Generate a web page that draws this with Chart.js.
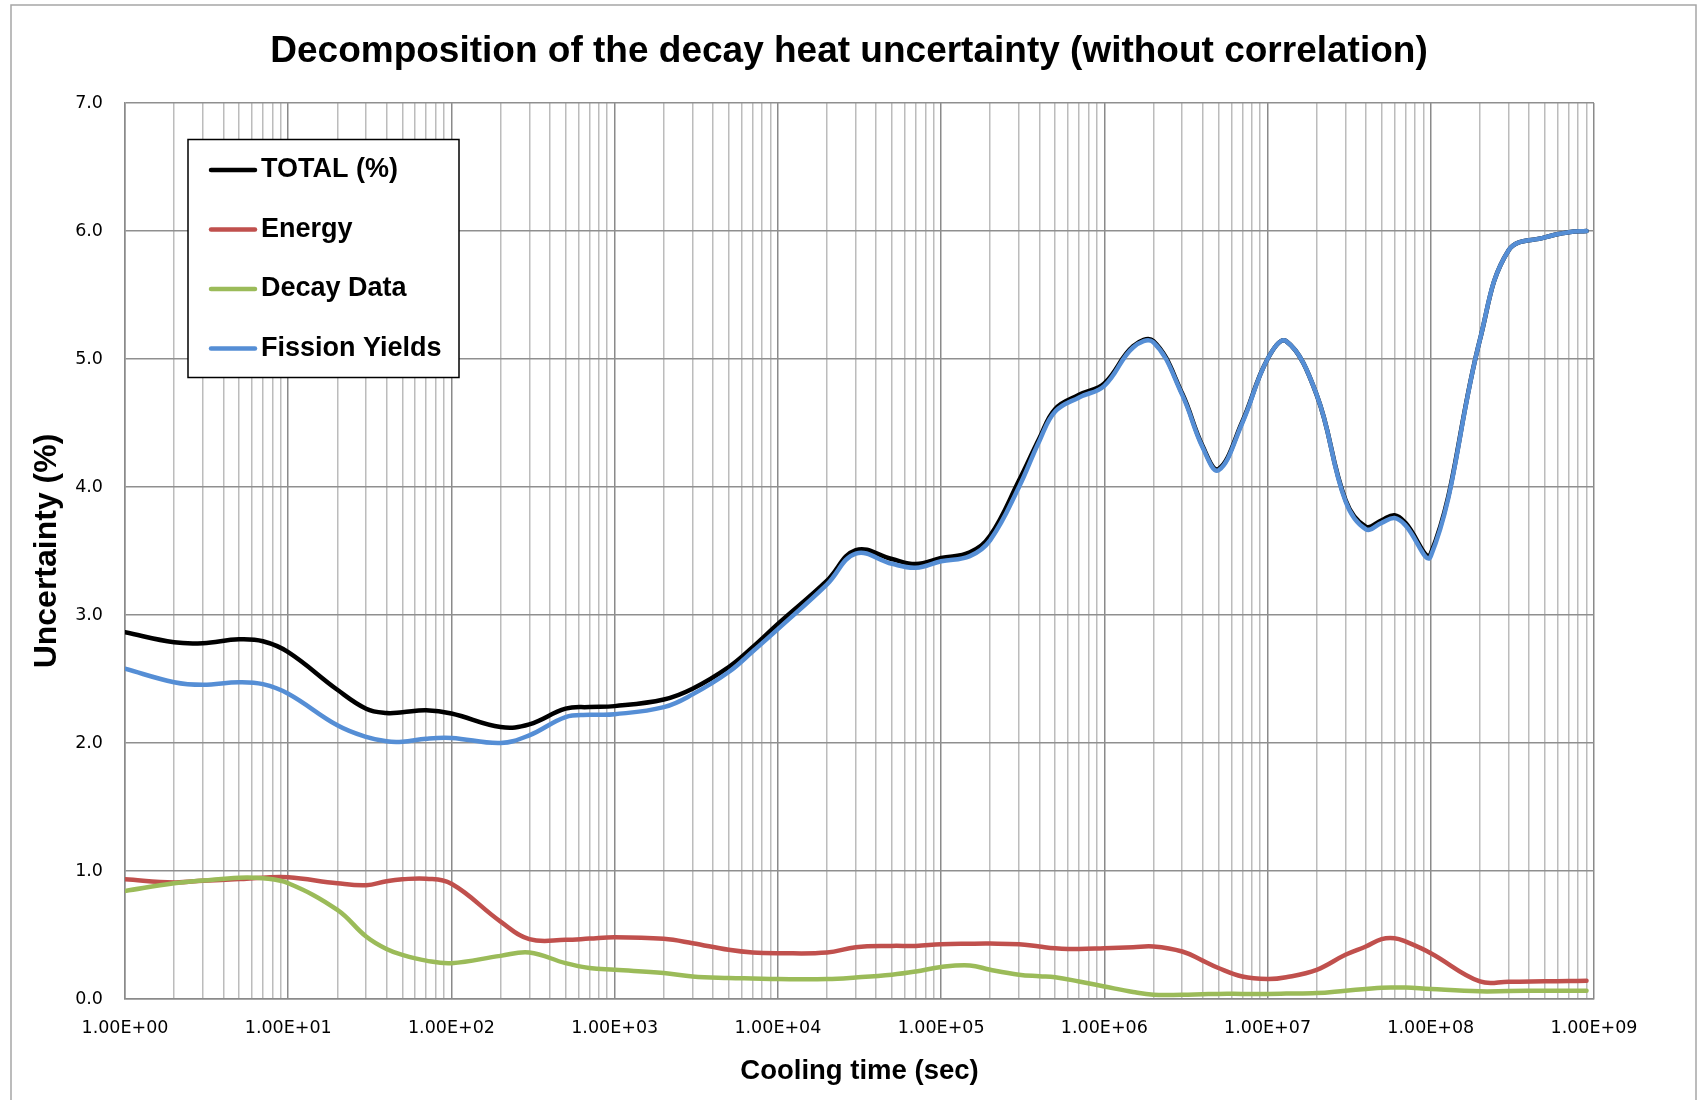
<!DOCTYPE html>
<html>
<head>
<meta charset="utf-8">
<title>Decay heat uncertainty</title>
<script src="https://cdn.jsdelivr.net/npm/chart.js@4.4.1/dist/chart.umd.min.js"></script>
<style>
  html, body { margin: 0; padding: 0; background: #fff; }
  #caja { width: 1698px; height: 1100px; }
</style>
</head>
<body>
<div id="caja"><canvas id="grafica" width="1698" height="1100"></canvas></div>
<script>
// cooling time (sec)
const tiempos = [1, 2, 3, 5, 7, 10, 20, 30, 40, 50, 70, 100, 200, 300, 500, 700,
  1e3, 2e3, 3e3, 5e3, 7e3, 1e4, 2e4, 3e4, 5e4, 7e4, 1e5, 1.5e5, 2e5, 3e5, 4e5, 5e5, 7e5,
  1e6, 1.5e6, 2e6, 3e6, 4e6, 5e6, 7e6, 1e7, 1.3e7, 2e7, 3e7, 4e7, 5e7, 6e7, 7e7,
  1e8, 2e8, 3e8, 5e8, 7e8, 9e8];

// uncertainty (%)
const total = [2.865, 2.787, 2.78, 2.81, 2.795, 2.71, 2.416, 2.268, 2.234, 2.24, 2.255, 2.23, 2.125, 2.146, 2.268, 2.281,
  2.288, 2.34, 2.424, 2.593, 2.748, 2.93, 3.268, 3.507, 3.437, 3.398, 3.445, 3.49, 3.62, 4.05, 4.38, 4.61, 4.72,
  4.81, 5.1, 5.14, 4.73, 4.32, 4.14, 4.51, 5.0, 5.14, 4.72, 3.9, 3.69, 3.74, 3.78, 3.72,
  3.48, 5.15, 5.85, 5.95, 5.99, 6.0];
const energia = [0.935, 0.911, 0.924, 0.937, 0.948, 0.951, 0.904, 0.889, 0.92, 0.935, 0.94, 0.90, 0.605, 0.468, 0.462, 0.472,
  0.483, 0.47, 0.436, 0.384, 0.363, 0.358, 0.363, 0.405, 0.415, 0.415, 0.428, 0.432, 0.433, 0.428, 0.41, 0.397, 0.39,
  0.397, 0.405, 0.41, 0.371, 0.30, 0.242, 0.176, 0.156, 0.17, 0.228, 0.345, 0.41, 0.468, 0.475, 0.449,
  0.358, 0.137, 0.135, 0.138, 0.14, 0.143];
const decaimiento = [0.844, 0.904, 0.925, 0.948, 0.943, 0.904, 0.696, 0.488, 0.39, 0.345, 0.30, 0.28, 0.337, 0.363, 0.28, 0.242,
  0.228, 0.203, 0.176, 0.164, 0.16, 0.156, 0.156, 0.168, 0.19, 0.215, 0.25, 0.262, 0.228, 0.19, 0.178, 0.17, 0.137,
  0.098, 0.055, 0.033, 0.033, 0.037, 0.04, 0.04, 0.04, 0.042, 0.046, 0.065, 0.078, 0.088, 0.09, 0.09,
  0.078, 0.06, 0.062, 0.065, 0.065, 0.065];
const fision = [2.58, 2.475, 2.455, 2.475, 2.46, 2.385, 2.138, 2.047, 2.013, 2.01, 2.034, 2.04, 2.0, 2.06, 2.203, 2.22,
  2.225, 2.28, 2.38, 2.555, 2.715, 2.89, 3.24, 3.48, 3.40, 3.37, 3.42, 3.46, 3.585, 4.0, 4.36, 4.59, 4.70,
  4.79, 5.09, 5.13, 4.72, 4.31, 4.13, 4.5, 5.0, 5.14, 4.72, 3.89, 3.67, 3.72, 3.757, 3.70,
  3.46, 5.15, 5.85, 5.95, 5.99, 6.0];

const nombres = ["TOTAL (%)", "Energy", "Decay Data", "Fission Yields"];
const colores = ["#000000", "#c0504d", "#9bbb59", "#558ed5"];

// ejes
const decadas = [1, 10, 100, 1e3, 1e4, 1e5, 1e6, 1e7, 1e8, 1e9];
const etiquetasX = ["1.00E+00", "1.00E+01", "1.00E+02", "1.00E+03", "1.00E+04",
  "1.00E+05", "1.00E+06", "1.00E+07", "1.00E+08", "1.00E+09"];
const valoresY = [0, 1, 2, 3, 4, 5, 6, 7];
const etiquetasY = ["0.0", "1.0", "2.0", "3.0", "4.0", "5.0", "6.0", "7.0"];

// fondo blanco y marco exterior
const fondo = {
  id: "fondo",
  beforeDraw(chart) {
    const c = chart.ctx;
    c.save();
    c.fillStyle = "#fff";
    c.fillRect(0, 0, chart.width, chart.height);
    c.strokeStyle = "#a6a6a6";
    c.lineWidth = 1.5;
    c.strokeRect(11, 5, 1685, 1110);
    c.restore();
  },
};

// leyenda dentro del area del grafico
const leyenda = {
  id: "leyenda",
  afterDraw(chart) {
    const c = chart.ctx;
    c.save();
    c.fillStyle = "#fff";
    c.fillRect(188, 139.5, 271, 238);
    c.strokeStyle = "#000";
    c.lineWidth = 1.5;
    c.strokeRect(188, 139.5, 271, 238);
    c.font = 'bold 27px "Liberation Sans"';
    c.textBaseline = "middle";
    c.lineCap = "round";
    chart.data.datasets.forEach((ds, i) => {
      const y = 170 + i * 59.5;
      c.strokeStyle = ds.borderColor;
      c.lineWidth = 4.5;
      c.beginPath();
      c.moveTo(211, y);
      c.lineTo(255, y);
      c.stroke();
      c.fillStyle = "#000";
      c.fillText(ds.label, 261, y);
    });
    c.restore();
  },
};

const series = [total, energia, decaimiento, fision];
const orden = [3, 2, 1, 0]; // fission yields encima del total

const grafica = document.querySelector("#grafica").getContext("2d");
new Chart(grafica, {
  type: "line",
  data: {
    labels: tiempos,
    datasets: series.map((s, i) => ({
      label: nombres[i],
      data: s,
      borderColor: colores[i],
      backgroundColor: colores[i],
      order: orden[i],
    })),
  },
  plugins: [fondo, leyenda],
  options: {
    responsive: false,
    animation: false,
    devicePixelRatio: 1,
    layout: { padding: 0 },
    elements: {
      point: { radius: 0, hoverRadius: 0 },
      line: { tension: 0.4, borderWidth: 4.5, borderCapStyle: "round", borderJoinStyle: "round", fill: false },
    },
    plugins: {
      legend: { display: false },
      tooltip: { enabled: false },
      title: {
        display: true,
        text: "Decomposition of the decay heat uncertainty (without correlation)",
        color: "#000",
        font: { family: "Liberation Sans", size: 37, weight: "bold" },
        padding: { top: 29.8, bottom: 28.8 },
      },
    },
    scales: {
      x: {
        type: "logarithmic",
        min: 1,
        max: 1e9,
        afterBuildTicks: (eje) => {
          const marcas = [];
          decadas.slice(0, 9).forEach((d) => {
            for (let k = 1; k < 10; k++) marcas.push({ value: d * k });
          });
          marcas.push({ value: 1e9 });
          eje.ticks = marcas;
        },
        afterFit: (eje) => { eje.height = 101; },
        grid: {
          color: (ctx) => (ctx.tick && decadas.includes(ctx.tick.value) ? "#8a8a8a" : "#bcbcbc"),
          lineWidth: 1.5,
          drawTicks: false,
        },
        border: { color: "#8a8a8a", width: 1.5 },
        ticks: {
          autoSkip: false,
          maxRotation: 0,
          minRotation: 0,
          padding: 19,
          color: "#000",
          font: { family: "DejaVu Sans", size: 17.5 },
          callback: (v) => {
            const i = decadas.indexOf(v);
            return i >= 0 ? etiquetasX[i] : "";
          },
        },
        title: {
          display: true,
          text: "Cooling time (sec)",
          color: "#000",
          font: { family: "Liberation Sans", size: 27.5, weight: "bold" },
          padding: { top: 0, bottom: 12.5 },
        },
      },
      y: {
        min: 0,
        max: 7,
        afterBuildTicks: (eje) => { eje.ticks = valoresY.map((v) => ({ value: v })); },
        afterFit: (eje) => { eje.width = 125; },
        grid: { color: "#8f8f8f", lineWidth: 1.5, drawTicks: false },
        border: { color: "#8a8a8a", width: 1.5 },
        ticks: {
          padding: 22,
          color: "#000",
          font: { family: "DejaVu Sans", size: 17.5 },
          callback: (v) => etiquetasY[valoresY.indexOf(v)],
        },
        title: {
          display: true,
          text: "Uncertainty (%)",
          color: "#000",
          font: { family: "Liberation Sans", size: 32, weight: "bold" },
          padding: { top: 27.5, bottom: 0 },
        },
      },
      // eje vacio a la derecha, solo reserva el margen
      y2: {
        position: "right",
        grid: { display: false },
        border: { display: false },
        ticks: { display: false },
        afterFit: (eje) => { eje.width = 104; },
      },
    },
  },
});
</script>
</body>
</html>
